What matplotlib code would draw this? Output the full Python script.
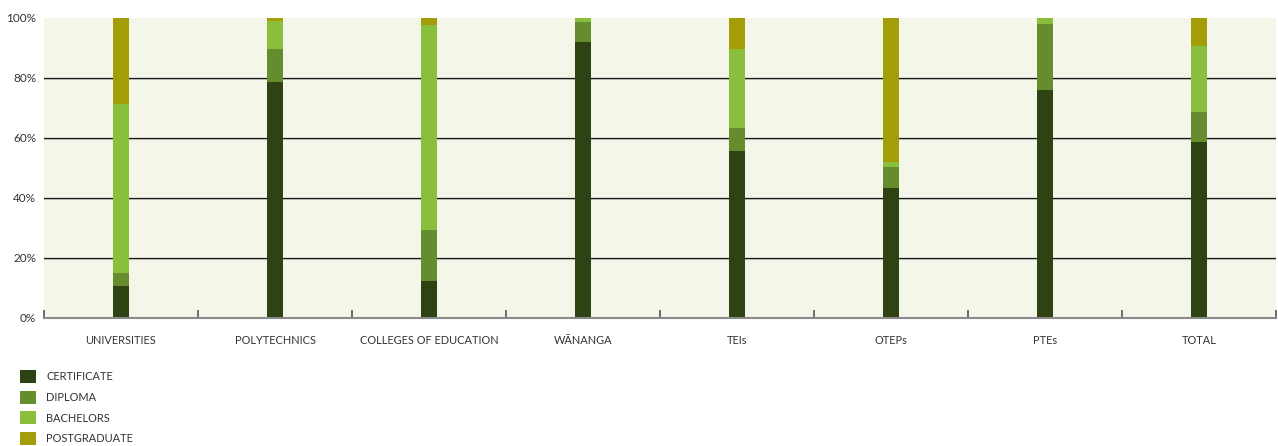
import matplotlib
matplotlib.use("Agg")
import matplotlib.pyplot as plt
from matplotlib.patches import Patch
import numpy as np

plt.rcParams['font.family'] = ['Lato', 'DejaVu Sans']

categories = ["UNIVERSITIES", "POLYTECHNICS", "COLLEGES OF EDUCATION", "WĀNANGA",
              "TEIs", "OTEPs", "PTEs", "TOTAL"]
certificate = [10.7, 78.8, 12.3, 92.0, 55.7, 43.3, 76.0, 58.7]
diploma = [4.3, 10.9, 17.0, 6.7, 7.6, 7.0, 22.0, 10.0]
bachelors = [56.3, 9.3, 68.4, 1.3, 26.4, 1.7, 2.0, 22.0]
postgraduate = [28.7, 1.0, 2.3, 0.0, 10.3, 48.0, 0.0, 9.3]
series_names = ["CERTIFICATE", "DIPLOMA", "BACHELORS", "POSTGRADUATE"]
y_ticks = [0, 20, 40, 60, 80, 100]

colors = ["#2e4214", "#658d2e", "#8abf3d", "#a39e08"]
text_color = "#333333"

W, H = 1278, 446
fig = plt.figure(figsize=(W / 100, H / 100), dpi=100)
ax = fig.add_axes([44 / W, (H - 318) / H, 1232 / W, 300 / H])
ax.set_facecolor("#f4f6ea")

x = np.arange(len(categories))
series = [certificate, diploma, bachelors, postgraduate]
bottom = np.zeros(len(categories))
for vals, col, name in zip(series, colors, series_names):
    ax.bar(x, vals, width=0.104, bottom=bottom, color=col, label=name,
           zorder=3, linewidth=0)
    bottom += np.array(vals)

ax.set_xlim(-0.5, len(categories) - 0.5)
ax.set_ylim(0, 100)

# horizontal grid lines with a faint shadow just beneath
for t in y_ticks[1:-1]:
    ax.axhline(t, color="#1a1a1a", lw=0.9, zorder=2)
    ax.axhline(t - 0.4, color="#c9cbc0", lw=0.7, zorder=1.9)

ax.set_yticks(y_ticks)
ax.set_yticklabels([f"{t}%" for t in y_ticks], fontsize=8.5, color=text_color)
ax.tick_params(axis="y", length=0, pad=5.5)

# category labels centred under each bar, boundary ticks pointing up
ax.set_xticks(x)
ax.set_xticklabels(categories, fontsize=7.9, color=text_color)
ax.tick_params(axis="x", which="major", length=0, pad=12)
ax.set_xticks(np.arange(len(categories) + 1) - 0.5, minor=True)
ax.tick_params(axis="x", which="minor", direction="in", length=6, width=1.2,
               color="#555555")

for s in ["top", "right", "left"]:
    ax.spines[s].set_visible(False)
ax.spines["bottom"].set_color("#8a8a8a")
ax.spines["bottom"].set_linewidth(1.5)
ax.spines["bottom"].set_zorder(4)

handles = [Patch(facecolor=c, edgecolor="none") for c in colors]
fig.legend(handles, series_names, loc="upper left",
           bbox_to_anchor=(20 / W, 1 - 370 / H), frameon=False,
           fontsize=7.9, handlelength=1.45, handleheight=1.45,
           handletextpad=0.92, labelspacing=0.7, borderpad=0,
           borderaxespad=0, labelcolor=text_color)

fig.savefig("out.png", dpi=100, facecolor="white")
